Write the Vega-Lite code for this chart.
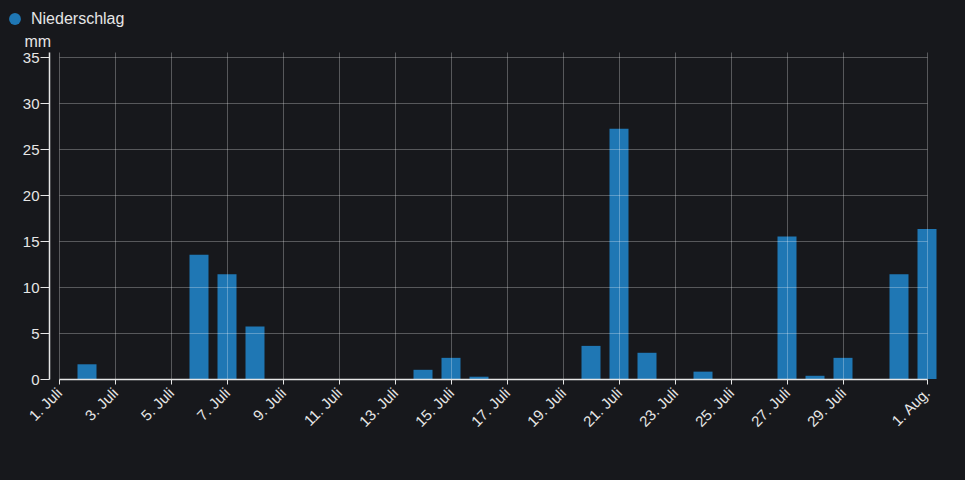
{
  "$schema": "https://vega.github.io/schema/vega-lite/v6.json",
  "autosize": {"type": "none"},
  "width": 868,
  "height": 327,
  "padding": {"left": 59, "top": 52, "right": 38, "bottom": 101},
  "background": "#17181c",
  "config": {
    "view": {"stroke": null},
    "font": "Liberation Sans"
  },
  "data": {
    "values": [
      {"datum": "2023-07-01", "mm": 0},
      {"datum": "2023-07-02", "mm": 1.6},
      {"datum": "2023-07-03", "mm": 0},
      {"datum": "2023-07-04", "mm": 0},
      {"datum": "2023-07-05", "mm": 0},
      {"datum": "2023-07-06", "mm": 13.5},
      {"datum": "2023-07-07", "mm": 11.4},
      {"datum": "2023-07-08", "mm": 5.7},
      {"datum": "2023-07-09", "mm": 0},
      {"datum": "2023-07-10", "mm": 0},
      {"datum": "2023-07-11", "mm": 0},
      {"datum": "2023-07-12", "mm": 0},
      {"datum": "2023-07-13", "mm": 0},
      {"datum": "2023-07-14", "mm": 1.0},
      {"datum": "2023-07-15", "mm": 2.3},
      {"datum": "2023-07-16", "mm": 0.25},
      {"datum": "2023-07-17", "mm": 0},
      {"datum": "2023-07-18", "mm": 0},
      {"datum": "2023-07-19", "mm": 0},
      {"datum": "2023-07-20", "mm": 3.6},
      {"datum": "2023-07-21", "mm": 27.2},
      {"datum": "2023-07-22", "mm": 2.85},
      {"datum": "2023-07-23", "mm": 0},
      {"datum": "2023-07-24", "mm": 0.8},
      {"datum": "2023-07-25", "mm": 0},
      {"datum": "2023-07-26", "mm": 0},
      {"datum": "2023-07-27", "mm": 15.5},
      {"datum": "2023-07-28", "mm": 0.35},
      {"datum": "2023-07-29", "mm": 2.3},
      {"datum": "2023-07-30", "mm": 0},
      {"datum": "2023-07-31", "mm": 11.4},
      {"datum": "2023-08-01", "mm": 16.3}
    ]
  },
  "mark": {"type": "bar", "width": 19, "clip": false},
  "encoding": {
    "x": {
      "field": "datum",
      "type": "temporal",
      "scale": {
        "type": "utc",
        "domain": [
          {"year": 2023, "month": 7, "date": 1, "utc": true},
          {"year": 2023, "month": 8, "date": 1, "utc": true}
        ],
        "nice": false,
        "padding": 0
      },
      "axis": {
        "title": null,
        "zindex": 1,
        "values": [
          {"year": 2023, "month": 7, "date": 1, "utc": true},
          {"year": 2023, "month": 7, "date": 3, "utc": true},
          {"year": 2023, "month": 7, "date": 5, "utc": true},
          {"year": 2023, "month": 7, "date": 7, "utc": true},
          {"year": 2023, "month": 7, "date": 9, "utc": true},
          {"year": 2023, "month": 7, "date": 11, "utc": true},
          {"year": 2023, "month": 7, "date": 13, "utc": true},
          {"year": 2023, "month": 7, "date": 15, "utc": true},
          {"year": 2023, "month": 7, "date": 17, "utc": true},
          {"year": 2023, "month": 7, "date": 19, "utc": true},
          {"year": 2023, "month": 7, "date": 21, "utc": true},
          {"year": 2023, "month": 7, "date": 23, "utc": true},
          {"year": 2023, "month": 7, "date": 25, "utc": true},
          {"year": 2023, "month": 7, "date": 27, "utc": true},
          {"year": 2023, "month": 7, "date": 29, "utc": true},
          {"year": 2023, "month": 8, "date": 1, "utc": true}
        ],
        "labelExpr": "utcdate(datum.value) + '. ' + (utcmonth(datum.value) == 6 ? 'Juli' : 'Aug.')",
        "labelAngle": -45,
        "labelAlign": "right",
        "labelBaseline": "middle",
        "labelPadding": 6,
        "labelFontSize": 15,
        "labelColor": "#e6e6e6",
        "labelFont": "Liberation Sans",
        "labelOverlap": false,
        "labelBound": false,
        "labelFlush": false,
        "tickSize": 5,
        "tickColor": "#e6e6e6",
        "domainColor": "#e6e6e6",
        "domainWidth": 1.5,
        "grid": true,
        "gridColor": "#ffffff",
        "gridOpacity": 0.28,
        "gridWidth": 1
      }
    },
    "y": {
      "field": "mm",
      "type": "quantitative",
      "scale": {"domain": [0, 35.55], "nice": false},
      "axis": {
        "title": "mm",
        "zindex": 1,
        "values": [0, 5, 10, 15, 20, 25, 30, 35],
        "offset": 10,
        "tickSize": 9,
        "labelPadding": 1,
        "labelFontSize": 15,
        "labelColor": "#e6e6e6",
        "labelFont": "Liberation Sans",
        "tickColor": "#e6e6e6",
        "domainColor": "#e6e6e6",
        "domainWidth": 1.5,
        "grid": true,
        "gridColor": "#ffffff",
        "gridOpacity": 0.28,
        "titleAngle": 0,
        "titleAlign": "left",
        "titleBaseline": "alphabetic",
        "titleX": -25,
        "titleY": -6,
        "titleFontSize": 16,
        "titleFontWeight": "normal",
        "titleColor": "#e6e6e6",
        "titleFont": "Liberation Sans"
      }
    },
    "color": {
      "datum": "Niederschlag",
      "type": "nominal",
      "scale": {"range": ["#1f77b4"]},
      "legend": {
        "title": null,
        "orient": "none",
        "legendX": -52,
        "legendY": -41,
        "padding": 0,
        "symbolType": "circle",
        "symbolSize": 140,
        "symbolStrokeWidth": 0,
        "symbolOpacity": 1,
        "labelFontSize": 16,
        "labelColor": "#e6e6e6",
        "labelFont": "Liberation Sans",
        "labelOffset": 8
      }
    }
  }
}
